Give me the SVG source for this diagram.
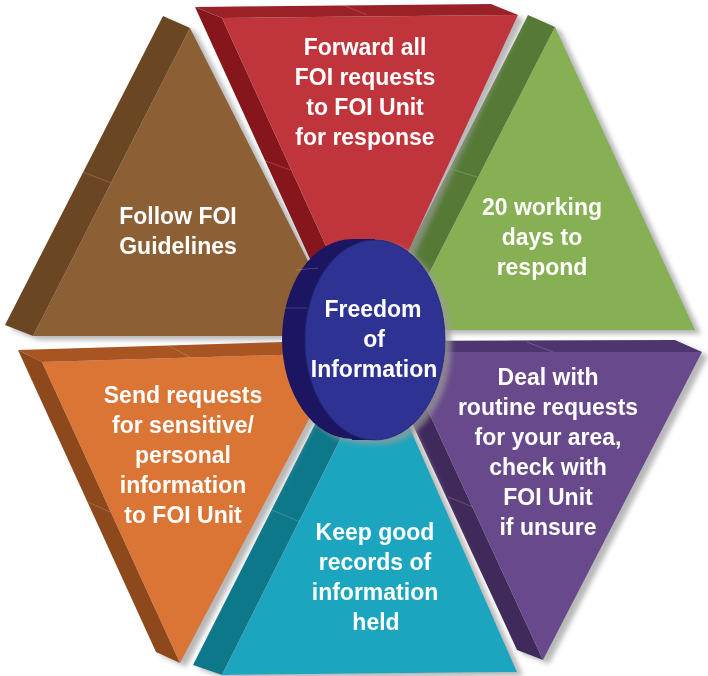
<svg xmlns="http://www.w3.org/2000/svg" width="708" height="676" viewBox="0 0 708 676">
<defs>
<filter id="sh" x="-10%" y="-10%" width="130%" height="130%">
<feDropShadow dx="6" dy="4" stdDeviation="2.5" flood-color="#9a9a9a" flood-opacity="0.7"/>
</filter>
<style>
text{font-family:"Liberation Sans",Arial,sans-serif;font-weight:bold;font-size:23px;fill:#fff;text-anchor:middle}
.seam{stroke:#fff;stroke-opacity:0.18;stroke-width:1}
</style>
</defs>
<rect width="708" height="676" fill="#fff"/>

<g id="purple" filter="url(#sh)">
<polygon points="374,341 675,340 702,352 401,352" fill="#4f3670"/>
<polygon points="374,341 401,352 543,660 517,650" fill="#412b5c"/>
<polygon points="401,352 702,352 543,660" fill="#674a8b"/>
<line class="seam" x1="527" y1="342" x2="553" y2="352"/>
<line class="seam" x1="448" y1="497" x2="473" y2="507"/>
<text x="548" y="385">Deal with</text>
<text x="548" y="415">routine requests</text>
<text x="548" y="445">for your area,</text>
<text x="548" y="475">check with</text>
<text x="548" y="505">FOI Unit</text>
<text x="548" y="535">if unsure</text>
</g>

<g id="teal" filter="url(#sh)">
<polygon points="353,349 380,360 222,675 193,665" fill="#10788a"/>
<polygon points="380,360 517,672 222,675" fill="#1ea5bf"/>
<line class="seam" x1="272" y1="510" x2="300" y2="522"/>
<text x="375" y="540">Keep good</text>
<text x="375" y="570">records of</text>
<text x="375" y="600">information</text>
<text x="376" y="630">held</text>
</g>

<g id="orange" filter="url(#sh)">
<polygon points="18,350 317,341 344,353 42,362" fill="#a85522"/>
<polygon points="18,350 42,362 180,663 156,652" fill="#8d4a1a"/>
<polygon points="42,362 344,353 180,663" fill="#da7436"/>
<line class="seam" x1="167" y1="345" x2="190" y2="357"/>
<line class="seam" x1="88" y1="502" x2="110" y2="512"/>
<text x="183" y="403">Send requests</text>
<text x="183" y="433">for sensitive/</text>
<text x="183" y="463">personal</text>
<text x="183" y="493">information</text>
<text x="183" y="523">to FOI Unit</text>
</g>

<g id="brown" filter="url(#sh)">
<polygon points="163,16 190,28 33,336 5,325" fill="#6b4624"/>
<polygon points="190,28 346,336 33,336" fill="#8d5e36"/>
<line class="seam" x1="83" y1="172" x2="111" y2="183"/>
<text x="178" y="224">Follow FOI</text>
<text x="178" y="254">Guidelines</text>
</g>

<g id="green" filter="url(#sh)">
<polygon points="528,15 555,27 400,330 373,319" fill="#577a36"/>
<polygon points="555,27 695,330 400,330" fill="#86b052"/>
<line class="seam" x1="448" y1="168" x2="477" y2="177"/>
<text x="542" y="215">20 working</text>
<text x="542" y="245">days to</text>
<text x="542" y="275">respond</text>
</g>

<g id="red" filter="url(#sh)">
<polygon points="195,7 491,4 518,15 222,18" fill="#9a2027"/>
<polygon points="195,7 222,18 368,338 341,327" fill="#86181e"/>
<polygon points="222,18 518,15 368,338" fill="#c0353a"/>
<line class="seam" x1="343" y1="5" x2="367" y2="15"/>
<line class="seam" x1="263" y1="160" x2="290" y2="170"/>
<text x="365" y="55">Forward all</text>
<text x="365" y="85">FOI requests</text>
<text x="365" y="115">to FOI Unit</text>
<text x="365" y="145">for response</text>
</g>

<g id="center" filter="url(#sh)">
<ellipse cx="352" cy="339" rx="70" ry="100" fill="#1b1862"/>
<rect x="352" y="239" width="23" height="201" fill="#1b1862"/>
<line class="seam" x1="296" y1="270" x2="318" y2="268"/>
<line class="seam" x1="285" y1="308" x2="307" y2="308"/>
<ellipse cx="375" cy="340" rx="70" ry="100" fill="#2e3192" stroke="#25287a" stroke-width="1"/>
<text x="373" y="317">Freedom</text>
<text x="374" y="347">of</text>
<text x="374" y="377">Information</text>
</g>
</svg>
